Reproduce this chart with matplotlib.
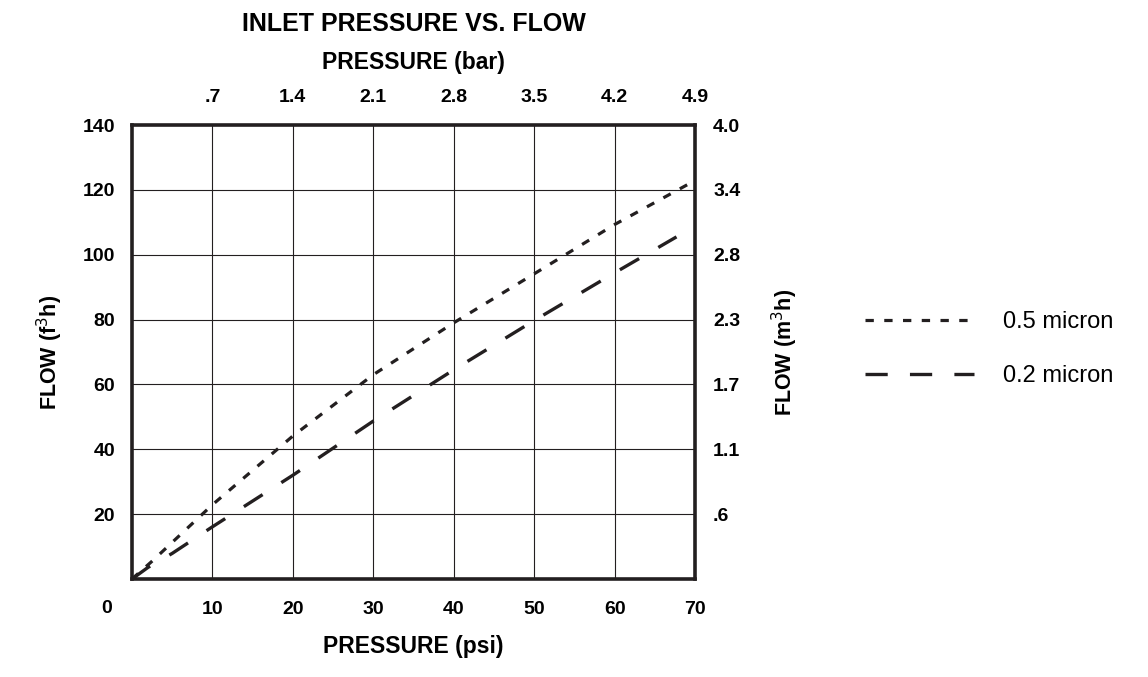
import matplotlib
matplotlib.use("Agg")
import matplotlib.pyplot as plt

# Chart values
psi_05 = [0, 2.5, 5, 10, 15, 20, 30, 40, 50, 60, 69.5]
flow_05 = [0, 5.5, 11.3, 22.9, 33.5, 44.1, 63.0, 79.0, 94.1, 109.3, 122.2]

psi_02 = [0, 2, 5, 10, 20, 30, 40, 50, 60, 67.7]
flow_02 = [0, 3.6, 7.9, 16.1, 32.0, 48.7, 64.5, 79.7, 94.4, 105.5]

psi_ticks = [10, 20, 30, 40, 50, 60, 70]
bar_labels = [".7", "1.4", "2.1", "2.8", "3.5", "4.2", "4.9"]
flow_ticks = [20, 40, 60, 80, 100, 120, 140]
m3h_labels = [".6", "1.1", "1.7", "2.3", "2.8", "3.4", "4.0"]

sans = ["Liberation Sans", "DejaVu Sans"]
plt.rcParams["font.family"] = sans
plt.rcParams["lines.scale_dashes"] = False
ink = "#231f20"
tick_fs = 14

fig = plt.figure(figsize=(11.48, 6.77), dpi=100)
ax = fig.add_axes([132 / 1148, 98 / 677, 563 / 1148, 454 / 677])

ax.plot(psi_05, flow_05, color=ink, lw=2.3, dashes=(6, 7.5), label="0.5 micron")
ax.plot(psi_02, flow_02, color=ink, lw=2.4, dashes=(16, 16), label="0.2 micron")

ax.set_xlim(0, 70)
ax.set_ylim(0, 140)
ax.set_xticks(psi_ticks)
ax.set_yticks(flow_ticks)
ax.grid(True, color=ink, lw=0.8)
for s in ax.spines.values():
    s.set_linewidth(2.6)
    s.set_color(ink)
ax.tick_params(length=0, labelsize=tick_fs)
ax.tick_params(axis="x", pad=16)
ax.tick_params(axis="y", pad=12)
for lab in ax.get_xticklabels() + ax.get_yticklabels():
    lab.set_weight("bold")

ax.annotate("0", xy=(0, 0), xytext=(-18, -21), textcoords="offset points",
            ha="center", va="center", fontsize=tick_fs, weight="bold")

# bar scale on top, m3/h on the right
top = ax.secondary_xaxis("top")
top.set_xticks(psi_ticks, bar_labels)
top.tick_params(length=0, labelsize=tick_fs, pad=14)
top.spines["top"].set_visible(False)
for lab in top.get_xticklabels():
    lab.set_weight("bold")

right = ax.secondary_yaxis("right")
right.set_yticks(flow_ticks, m3h_labels)
right.tick_params(length=0, labelsize=tick_fs, pad=13)
right.spines["right"].set_visible(False)
for lab in right.get_yticklabels():
    lab.set_weight("bold")

ax.set_xlabel("PRESSURE (psi)", fontsize=16.5, weight="bold", labelpad=12)
ax.set_ylabel("FLOW (f$^3$h)", fontsize=15.5, weight="bold", labelpad=13)
right.set_ylabel("FLOW (m$^3$h)", fontsize=15.5, weight="bold", labelpad=21)
fig.text(413.5 / 1148, 1 - 62 / 677, "PRESSURE (bar)", ha="center", va="center",
         fontsize=16.5, weight="bold")
fig.text(413.5 / 1148, 1 - 24 / 677, "INLET PRESSURE VS. FLOW", ha="center", va="center",
         fontsize=18, weight="bold")

fig.legend(loc="upper left", bbox_to_anchor=(865 / 1148, 1 - 311 / 677),
           frameon=False, handlelength=4.6, handletextpad=1.25,
           labelspacing=1.35, borderpad=0, borderaxespad=0,
           prop={"family": sans, "size": 17})

fig.savefig("out.png", dpi=100)
